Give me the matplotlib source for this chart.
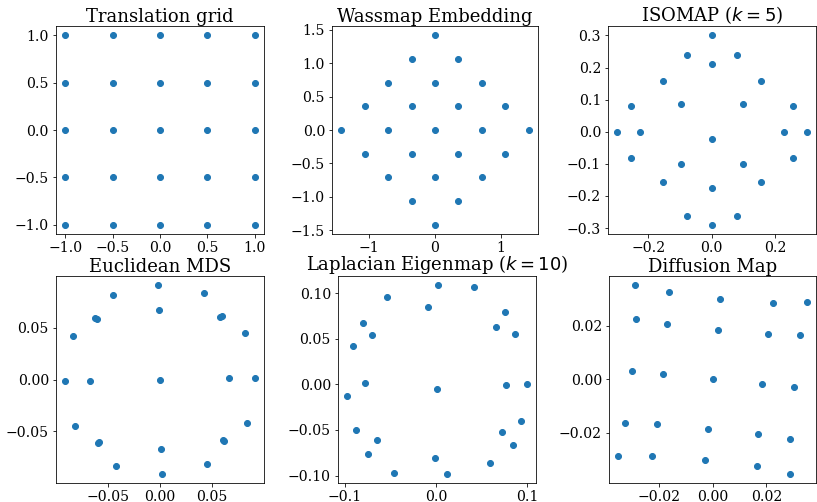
import matplotlib
matplotlib.use("Agg")
from matplotlib import pyplot as plt

plt.rcParams['font.family'] = ['DejaVu Serif']
plt.rcParams['mathtext.fontset'] = 'dejavusans'

# Translation grid
grid_x = [-1.0, -0.5, 0.0, 0.5, 1.0] * 5
grid_y = [1.0] * 5 + [0.5] * 5 + [0.0] * 5 + [-0.5] * 5 + [-1.0] * 5

# Wassmap embedding (rotated grid)
wass_x = [0.0, -0.354, 0.354, -0.707, 0.0, 0.707, -1.061, -0.354, 0.354, 1.061,
          -1.414, -0.707, 0.0, 0.707, 1.414, -1.061, -0.354, 0.354, 1.061,
          -0.707, 0.0, 0.707, -0.354, 0.354, 0.0]
wass_y = [1.414, 1.061, 1.061, 0.707, 0.707, 0.707, 0.354, 0.354, 0.354, 0.354,
          0.0, 0.0, 0.0, 0.0, 0.0, -0.354, -0.354, -0.354, -0.354,
          -0.707, -0.707, -0.707, -1.061, -1.061, -1.414]

# ISOMAP (k=5)
iso_x = [0.0, -0.078, 0.080, 0.0, -0.154, 0.156, -0.253, -0.097, 0.099, 0.256,
         -0.297, -0.226, 0.0, 0.227, 0.299, -0.253, -0.097, 0.099, 0.256,
         -0.154, 0.156, 0.0, -0.078, 0.080, 0.0]
iso_y = [0.300, 0.240, 0.240, 0.212, 0.157, 0.157, 0.081, 0.085, 0.085, 0.081,
         0.0, 0.0, -0.021, 0.0, 0.0, -0.081, -0.100, -0.100, -0.081,
         -0.158, -0.158, -0.175, -0.261, -0.261, -0.289]

# Euclidean MDS
mds_x = [-0.0016, -0.0448, 0.0423, -0.0010, -0.0620, -0.0600, 0.0575, 0.0590,
         -0.0829, 0.0813, -0.0905, -0.0668, 0.0, 0.0665, 0.0905, -0.0813,
         0.0829, -0.0595, -0.0580, 0.0600, 0.0612, 0.0013, -0.0419, 0.0452, 0.0016]
mds_y = [0.0905, 0.0813, 0.0829, 0.0665, 0.0590, 0.0578, 0.0598, 0.0608,
         0.0419, 0.0448, -0.0019, -0.0013, 0.0, 0.0013, 0.0019, -0.0452,
         -0.0419, -0.0612, -0.0598, -0.0578, -0.0590, -0.0668, -0.0832, -0.0813, -0.0905]

# Laplacian eigenmap (k=10)
lap_x = [0.0018, 0.0412, -0.0537, -0.0092, 0.0757, -0.0805, 0.0654, -0.0702,
         0.0864, -0.0912, -0.0779, -0.0978, 0.0004, 0.0765, 0.0996, -0.0875,
         0.0930, -0.0651, 0.0717, -0.0746, 0.0842, -0.0011, 0.0592, -0.0460, 0.0114]
lap_y = [0.1084, 0.1069, 0.0960, 0.0844, 0.0789, 0.0676, 0.0629, 0.0545,
         0.0549, 0.0415, 0.0015, -0.0131, -0.0055, -0.0007, 0.0, -0.0505,
         -0.0404, -0.0611, -0.0527, -0.0764, -0.0662, -0.0811, -0.0862, -0.0967, -0.0978]

# Diffusion map
dif_x = [-0.0289, -0.0164, 0.0029, 0.0224, 0.0350, -0.0287, -0.0169, 0.0019,
         0.0205, 0.0325, -0.0301, -0.0184, 0.0, 0.0185, 0.0302, -0.0325,
         -0.0206, -0.0017, 0.0170, 0.0288, -0.0351, -0.0225, -0.0030, 0.0165, 0.0289]
dif_y = [0.0350, 0.0324, 0.0300, 0.0286, 0.0287, 0.0224, 0.0206, 0.0183,
         0.0167, 0.0163, 0.0030, 0.0019, 0.0, -0.0019, -0.0030, -0.0163,
         -0.0168, -0.0185, -0.0206, -0.0225, -0.0289, -0.0287, -0.0301, -0.0326, -0.0353]

grid_ticks = [-1.0, -0.5, 0.0, 0.5, 1.0]
grid_labels = ['\u22121.0', '\u22120.5', '0.0', '0.5', '1.0']
mds_ticks = [-0.05, 0.0, 0.05]
mds_labels = ['\u22120.05', '0.00', '0.05']

panels = [
    ("Translation grid", grid_x, grid_y),
    ("Wassmap Embedding", wass_x, wass_y),
    (r"ISOMAP ($k=5$)", iso_x, iso_y),
    ("Euclidean MDS", mds_x, mds_y),
    (r"Laplacian Eigenmap ($k=10$)", lap_x, lap_y),
    ("Diffusion Map", dif_x, dif_y),
]

# axes boxes in pixels: left, top, right, bottom
boxes = [
    (56, 26, 264, 234), (332, 26, 538, 234), (608, 26, 816, 234),
    (56, 276, 264, 483), (338, 276, 536, 483), (609, 276, 816, 483),
]

W, H = 817, 502
fig = plt.figure(figsize=(W / 72, H / 72), dpi=72)
axes = []

for (title, xs, ys), (l, t, r, b) in zip(panels, boxes):
    ax = fig.add_axes([l / W, (H - b) / H, (r - l) / W, (b - t) / H])
    ax.scatter(xs, ys, s=36, color='#1f77b4')
    ax.set_title(title, fontsize=18, pad=3)
    ax.tick_params(labelsize=14)
    axes.append(ax)

axes[0].set_xticks(grid_ticks, grid_labels)
axes[0].set_yticks(grid_ticks, grid_labels)
axes[3].set_xticks(mds_ticks, mds_labels)
axes[3].set_yticks(mds_ticks, mds_labels)

fig.savefig("out.png", dpi=72)
